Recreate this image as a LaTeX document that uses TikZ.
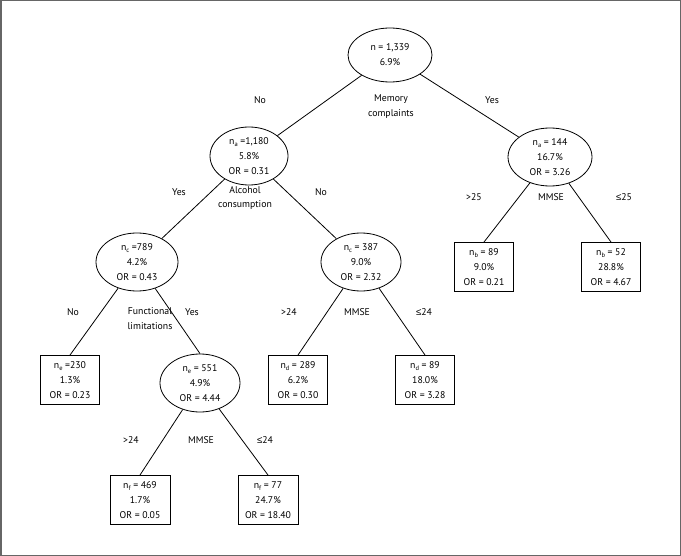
\documentclass[tikz,border=0pt]{standalone}
\usepackage{fontspec}
\setmainfont{PT Sans}
\newfontfamily\symfont{Liberation Sans}
\usetikzlibrary{shapes.geometric}
\newcommand\mysub[1]{\raisebox{-0.35ex}{\fontsize{6.5}{6.5}\selectfont #1}}
\newcommand\myleq{{\symfont ≤}}
\tikzset{
  txt/.style={font=\fontsize{9.8}{15}\selectfont, align=center, inner sep=0pt},
  ell/.style={txt, draw, ellipse, line width=0.8bp, minimum width=80bp, minimum height=58bp},
  leaf/.style={txt, draw, rectangle, line width=0.9bp, minimum width=59bp, minimum height=49bp},
  lab/.style={txt},
  edge/.style={line width=0.8bp}
}
\begin{document}
\begin{tikzpicture}[x=1bp,y=-1bp]
\useasboundingbox (0,0) rectangle (681,556);
\draw[line width=1.5bp, black!60] (0.75,0.75) rectangle (680.25,555.25);

\node[ell, minimum width=84bp, minimum height=54bp] (root) at (390,55) {n = 1,339\\6.9\%};
\node[ell, minimum width=78bp] (A) at (249,156) {n\mysub{a} =1,180\\5.8\%\\OR = 0.31};
\node[ell, minimum width=84bp] (B) at (550,157) {n\mysub{a} = 144\\16.7\%\\OR = 3.26};
\node[ell, minimum width=82bp] (C) at (137,262) {n\mysub{c} =789\\4.2\%\\OR = 0.43};
\node[ell] (D) at (361,262) {n\mysub{c} = 387\\9.0\%\\OR = 2.32};
\node[ell] (E) at (200,383) {n\mysub{e} = 551\\4.9\%\\OR = 4.44};

\node[leaf] (b1) at (484,267) {n\mysub{b} = 89\\9.0\%\\OR = 0.21};
\node[leaf] (b2) at (611,267) {n\mysub{b} = 52\\28.8\%\\OR = 4.67};
\node[leaf] (e1) at (70,380) {n\mysub{e} =230\\1.3\%\\OR = 0.23};
\node[leaf] (d1) at (298,380) {n\mysub{d} = 289\\6.2\%\\OR = 0.30};
\node[leaf] (d2) at (425,380) {n\mysub{d} = 89\\18.0\%\\OR = 3.28};
\node[leaf, minimum width=60bp] (f1) at (140,500) {n\mysub{f} = 469\\1.7\%\\OR = 0.05};
\node[leaf, minimum width=60bp] (f2) at (268,500) {n\mysub{f} = 77\\24.7\%\\OR = 18.40};

\draw[edge] (root) -- (A);
\draw[edge] (root) -- (B);
\draw[edge] (A) -- (C);
\draw[edge] (A) -- (D);
\draw[edge] (B) -- (b1.north);
\draw[edge] (B) -- (b2.north);
\draw[edge] (C) -- (e1.north);
\draw[edge] (C) -- (E.north);
\draw[edge] (D) -- (d1.north);
\draw[edge] (D) -- (d2.north);
\draw[edge] (E) -- (f1.north);
\draw[edge] (E) -- (f2.north);

\node[lab] (l1) at (260,100) {No};
\node[lab] (l2) at (391,107) {Memory\\complaints};
\node[lab] (l3) at (492,100) {Yes};
\node[lab] (l4) at (179,192) {Yes};
\node[lab] (l5) at (245,198) {Alcohol\\consumption};
\node[lab] (l6) at (321,192) {No};
\node[lab] (l7) at (474,197) {>25};
\node[lab] (l8) at (551,197) {MMSE};
\node[lab] (l9) at (624,197) {\myleq 25};
\node[lab] (l10) at (73,312) {No};
\node[lab] (l11) at (150,319) {Functional\\limitations};
\node[lab] (l12) at (192,312) {Yes};
\node[lab] (l13) at (289,312) {>24};
\node[lab] (l14) at (357,312) {MMSE};
\node[lab] (l15) at (424,312) {\myleq 24};
\node[lab] (l16) at (131,440) {>24};
\node[lab] (l17) at (201,440) {MMSE};
\node[lab] (l18) at (265,440) {\myleq 24};
\end{tikzpicture}
\end{document}
